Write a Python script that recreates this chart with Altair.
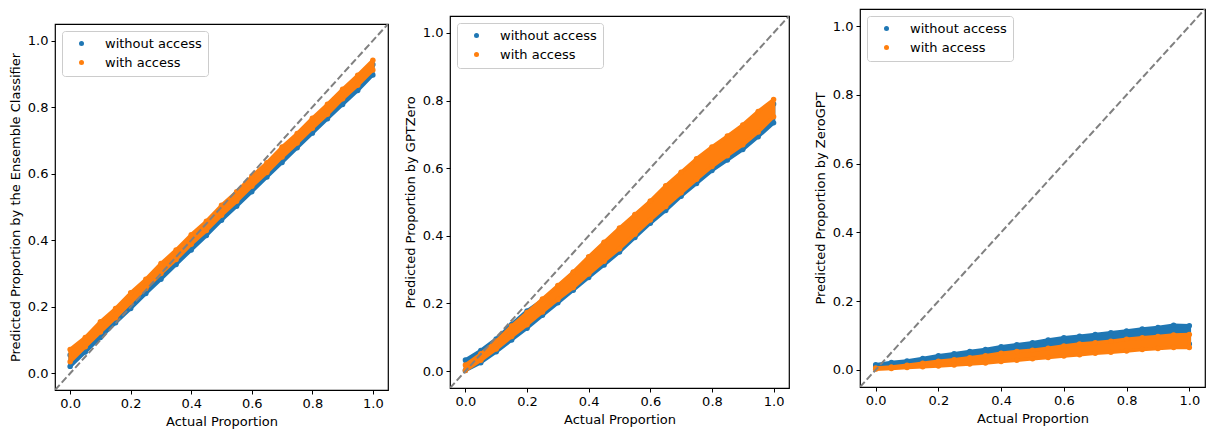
import altair as alt
import pandas as pd

# ---------------- data ----------------
x_samples = [0.0, 0.05, 0.1, 0.15, 0.2, 0.25, 0.3, 0.35, 0.4, 0.45, 0.5,
             0.55, 0.6, 0.65, 0.7, 0.75, 0.8, 0.85, 0.9, 0.95, 1.0]
series_names = ["without access", "with access"]
series_colors = ["#1f77b4", "#ff7f0e"]
tick_values = [0.0, 0.2, 0.4, 0.6, 0.8, 1.0]
diag_x = [-0.05, 1.05]
x_title = "Actual Proportion"
y_titles = ["Predicted Proportion by the Ensemble Classifier",
            "Predicted Proportion by GPTZero",
            "Predicted Proportion by ZeroGPT"]

# Panel 1: Ensemble Classifier
p1_blue_lo = [0.021, 0.064, 0.108, 0.152, 0.195, 0.240, 0.283, 0.327, 0.371, 0.414, 0.460,
              0.502, 0.546, 0.590, 0.634, 0.678, 0.722, 0.765, 0.808, 0.850, 0.897]
p1_blue_hi = [0.055, 0.096, 0.142, 0.183, 0.229, 0.271, 0.317, 0.359, 0.405, 0.445, 0.492,
              0.534, 0.580, 0.621, 0.667, 0.709, 0.755, 0.797, 0.842, 0.884, 0.928]
p1_orange_lo = [0.035, 0.080, 0.124, 0.167, 0.213, 0.255, 0.300, 0.342, 0.388, 0.429, 0.475,
                0.517, 0.562, 0.604, 0.650, 0.692, 0.737, 0.779, 0.825, 0.866, 0.912]
p1_orange_hi = [0.072, 0.108, 0.155, 0.195, 0.242, 0.283, 0.330, 0.371, 0.417, 0.457, 0.505,
                0.546, 0.592, 0.633, 0.680, 0.721, 0.767, 0.809, 0.854, 0.896, 0.941]

# Panel 2: GPTZero
p2_blue_lo = [0.002, 0.025, 0.057, 0.092, 0.127, 0.165, 0.202, 0.239, 0.277, 0.314, 0.352,
              0.395, 0.437, 0.475, 0.517, 0.555, 0.593, 0.624, 0.655, 0.693, 0.734]
p2_blue_hi = [0.033, 0.061, 0.095, 0.138, 0.178, 0.210, 0.250, 0.291, 0.336, 0.378, 0.420,
              0.460, 0.500, 0.545, 0.585, 0.624, 0.658, 0.690, 0.722, 0.760, 0.790]
p2_orange_lo = [0.002, 0.032, 0.065, 0.102, 0.137, 0.175, 0.212, 0.247, 0.287, 0.325, 0.362,
                0.405, 0.447, 0.487, 0.527, 0.567, 0.605, 0.637, 0.669, 0.707, 0.752]
p2_orange_hi = [0.018, 0.051, 0.088, 0.133, 0.173, 0.213, 0.253, 0.293, 0.338, 0.381, 0.423,
                0.463, 0.503, 0.548, 0.588, 0.628, 0.663, 0.695, 0.728, 0.768, 0.803]

# Panel 3: ZeroGPT
p3_blue_lo = [0.008, 0.012, 0.016, 0.019, 0.021, 0.024, 0.027, 0.030, 0.034, 0.038, 0.042,
              0.046, 0.050, 0.054, 0.058, 0.061, 0.065, 0.069, 0.072, 0.075, 0.075]
p3_blue_hi = [0.015, 0.021, 0.026, 0.033, 0.041, 0.047, 0.053, 0.059, 0.067, 0.073, 0.079,
              0.087, 0.093, 0.098, 0.103, 0.108, 0.113, 0.119, 0.123, 0.130, 0.128]
p3_orange_lo = [0.002, 0.004, 0.007, 0.009, 0.011, 0.014, 0.017, 0.020, 0.024, 0.028, 0.032,
                0.036, 0.040, 0.044, 0.048, 0.051, 0.055, 0.059, 0.062, 0.065, 0.065]
p3_orange_hi = [0.005, 0.008, 0.013, 0.019, 0.025, 0.029, 0.035, 0.041, 0.048, 0.053, 0.057,
                0.063, 0.069, 0.075, 0.079, 0.083, 0.089, 0.093, 0.097, 0.101, 0.103]

FONT = "DejaVu Sans"


def panel(blue_lo, blue_hi, orange_lo, orange_hi, ytitle, w, h):
    xs = alt.Scale(domain=[-0.05, 1.05], nice=False, zero=False)
    ys = alt.Scale(domain=[-0.05, 1.05], nice=False, zero=False)
    xax = alt.Axis(values=tick_values, format=".1f", title=x_title)
    yax = alt.Axis(values=tick_values, format=".1f", title=ytitle)
    color = alt.Color("series:N", title=None,
                      scale=alt.Scale(domain=series_names, range=series_colors))

    layers = []
    for lo, hi, name, col in [(blue_lo, blue_hi, series_names[0], series_colors[0]),
                              (orange_lo, orange_hi, series_names[1], series_colors[1])]:
        band = pd.DataFrame({"x": x_samples, "lo": lo, "hi": hi})
        pts = pd.DataFrame({"x": x_samples + x_samples, "y": lo + hi,
                            "series": [name] * (2 * len(x_samples))})
        area = alt.Chart(band).mark_area(
            fill=col, stroke=col, strokeWidth=3.5, strokeJoin="round", opacity=1, clip=True
        ).encode(x=alt.X("x:Q", scale=xs, axis=xax),
                 y=alt.Y("lo:Q", scale=ys, axis=yax),
                 y2="hi:Q")
        dots = alt.Chart(pts).mark_circle(size=30, opacity=1, clip=True).encode(
            x=alt.X("x:Q", scale=xs, axis=xax),
            y=alt.Y("y:Q", scale=ys, axis=yax),
            color=color)
        layers += [area, dots]

    diag = alt.Chart(pd.DataFrame({"x": diag_x, "y": diag_x})).mark_line(
        color="#808080", strokeDash=[7, 3], strokeWidth=2, clip=True
    ).encode(x=alt.X("x:Q", scale=xs, axis=xax), y=alt.Y("y:Q", scale=ys, axis=yax))
    layers.append(diag)

    return alt.layer(*layers).properties(width=w, height=h)


def spacer(h):
    return alt.Chart(pd.DataFrame({"a": [0]})).mark_point(opacity=0, size=1).encode(
        x=alt.value(1), y=alt.value(h / 2)
    ).properties(width=2, height=h, view=alt.ViewBackground(stroke="transparent"))


p1 = panel(p1_blue_lo, p1_blue_hi, p1_orange_lo, p1_orange_hi, y_titles[0], 333, 366)
p2 = panel(p2_blue_lo, p2_blue_hi, p2_orange_lo, p2_orange_hi, y_titles[1], 339, 372)
p3 = panel(p3_blue_lo, p3_blue_hi, p3_orange_lo, p3_orange_hi, y_titles[2], 345, 378)

c1 = alt.vconcat(spacer(13), p1, spacing=0).resolve_legend(color="independent")
c2 = alt.vconcat(spacer(5), p2, spacing=0).resolve_legend(color="independent")
left = alt.hconcat(c1, c2, spacing=14).resolve_legend(color="independent")
chart = alt.hconcat(left, p3, spacing=23).resolve_legend(color="independent").properties(
    padding={"left": 0, "top": 0, "right": 0, "bottom": 0}
).configure_view(
    stroke="black", strokeWidth=1.2
).configure_axis(
    domain=False, grid=False, tickColor="black", tickSize=4, tickWidth=1,
    labelFont=FONT, labelFontSize=13, labelColor="black", labelPadding=3,
    titleFont=FONT, titleFontSize=13, titleFontWeight="normal", titleColor="black",
    titlePadding=5
).configure_legend(
    orient="top-left", offset=7, padding=6, strokeColor="#cccccc",
    fillColor="rgba(255,255,255,0.8)", cornerRadius=3,
    labelFont=FONT, labelFontSize=13, labelColor="black",
    symbolType="circle", symbolSize=25, symbolStrokeWidth=0,
    rowPadding=5, symbolOffset=7, labelOffset=17
)

chart.save("out.html", embed_options={"renderer": "svg", "actions": False})
